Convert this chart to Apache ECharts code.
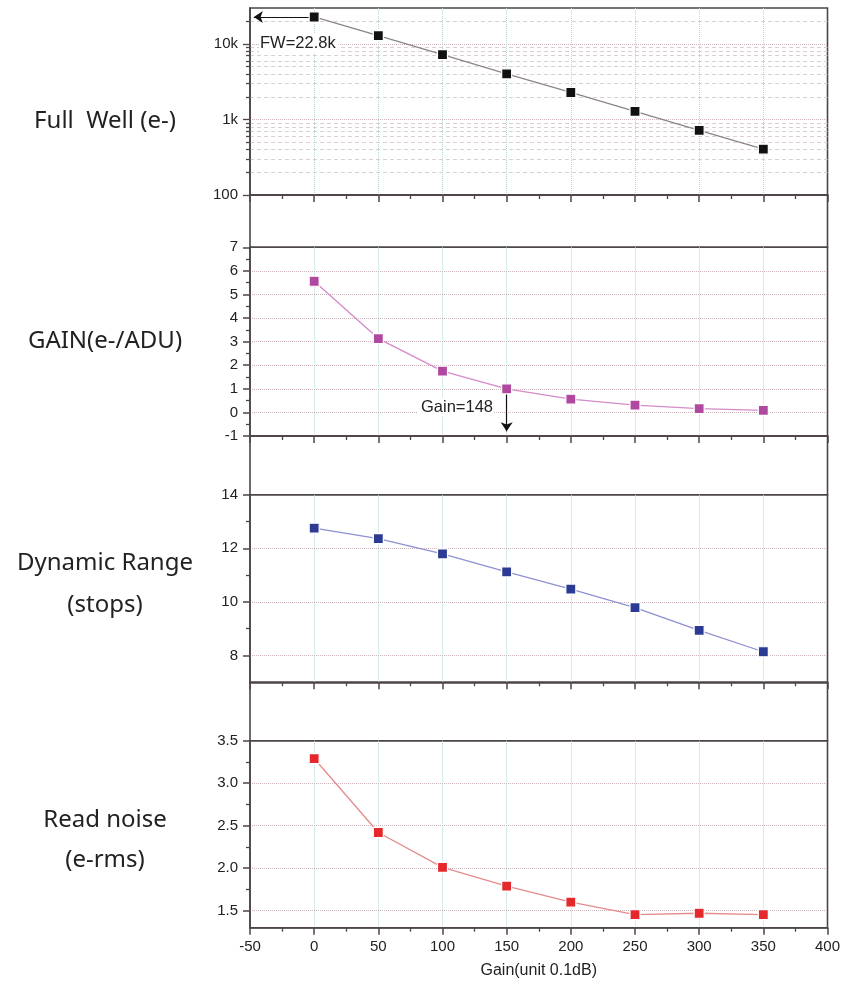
<!DOCTYPE html>
<html><head><meta charset="utf-8">
<script src="https://cdn.jsdelivr.net/npm/echarts@6/dist/echarts.min.js"></script>
<style>html,body{margin:0;padding:0;background:#fff}#c{width:849px;height:989px}</style>
</head><body><div id="c"></div>
<script>
// ---- data ----
const gains = [0, 50, 100, 150, 200, 250, 300, 350];
const fullWell = [22800, 12900, 7230, 4020, 2280, 1280, 719, 404];
const gainADU = [5.56, 3.13, 1.75, 1.00, 0.56, 0.31, 0.16, 0.09];
const dynRange = [12.75, 12.36, 11.79, 11.12, 10.48, 9.79, 8.94, 8.14];
const readNoise = [3.29, 2.42, 2.01, 1.79, 1.60, 1.455, 1.47, 1.455];

const fwTickVals = [100, 1000, 10000];
const fwTickText = {100: '100', 1000: '1k', 10000: '10k'};
const fwMinorVals = [200,300,400,500,600,700,800,900,2000,3000,4000,5000,6000,7000,8000,9000,20000];
const gainTickVals = [-1, 0, 1, 2, 3, 4, 5, 6, 7];
const drTickVals = [8, 10, 12, 14];
const drMinorVals = [9, 11, 13];
const rnTickVals = [1.5, 2.0, 2.5, 3.0, 3.5];
const rnMinorVals = [1.75, 2.25, 2.75, 3.25];

const fwArrow = [[0, 22800], [-47, 22800]];
const fwLabel = 'FW=22.8k';
const gainArrow = [[150, 1.0], [150, -0.8]];
const gainLabel = 'Gain=148';
const xTitle = 'Gain(unit 0.1dB)';
const panelTitles = [['Full  Well (e-)'], ['GAIN(e-/ADU)'], ['Dynamic Range', '(stops)'], ['Read noise', '(e-rms)']];

// ---- styles ----
const FRAME = '#4d4646';
const FRAME_W = 1.6;
const TXT = '#222';
const FONT = 'Liberation Sans, Arial, sans-serif';
const HGRID = {type: 'dotted', color: '#cfb3bb', width: 1};
const VGRID = {type: 'dotted', color: '#b3d6da', width: 1};
const LOG_MAX = 30000;

const L = 250, W = 577.5;
const grids = [
  {top: 8, height: 187},       // G1
  {top: 195, height: 52.3},    // band
  {top: 247.3, height: 188.7}, // G2
  {top: 436, height: 58.7},    // band
  {top: 494.7, height: 187.6}, // G3
  {top: 682.3, height: 58.4},  // band
  {top: 740.7, height: 187}    // G4
].map(g => ({left: L, width: W, top: g.top, height: g.height, show: true,
  borderColor: FRAME, borderWidth: FRAME_W, backgroundColor: 'transparent'}));

function xAxisFor(gi, showLabels) {
  return {
    type: 'value', gridIndex: gi, position: 'bottom', min: -50, max: 400, interval: 50,
    axisLine: {show: true, onZero: false, lineStyle: {color: FRAME, width: FRAME_W}},
    axisTick: {show: true, inside: false, length: 7, lineStyle: {color: FRAME, width: 1.5}},
    minorTick: {show: true, splitNumber: 2, length: 4, lineStyle: {color: FRAME, width: 1.3}},
    axisLabel: {show: showLabels, color: TXT, fontSize: 15, fontFamily: FONT, margin: 12},
    splitLine: {show: true, showMinLine: false, showMaxLine: false, lineStyle: VGRID},
    name: showLabels ? xTitle : '', nameLocation: 'middle', nameGap: 35,
    nameTextStyle: {color: TXT, fontSize: 16, fontFamily: FONT}
  };
}
function hiddenX(gi) { return {type: 'value', gridIndex: gi, show: false, min: -50, max: 400}; }
function hiddenY(gi) { return {type: 'value', gridIndex: gi, show: false, min: 0, max: 1, position: 'left'}; }
function tickOnlyY(gi, min, max, vals, len, split) {
  return {
    type: 'value', gridIndex: gi, position: 'left', offset: 0, min: min, max: max,
    axisLine: {show: false, onZero: false}, axisLabel: {show: false},
    axisTick: {show: true, inside: false, length: len, customValues: vals, lineStyle: {color: FRAME, width: 1.3}},
    splitLine: split ? {show: true, lineStyle: split} : {show: false}
  };
}
const labelStyle = {color: TXT, fontSize: 15, fontFamily: FONT, margin: 12};
const yLine = {show: true, onZero: false, lineStyle: {color: FRAME, width: FRAME_W}};
const majorTick = {show: true, inside: false, length: 7, lineStyle: {color: FRAME, width: 1.5}};

const xAxes = [xAxisFor(0, false), hiddenX(1), xAxisFor(2, false), hiddenX(3), xAxisFor(4, false), hiddenX(5), xAxisFor(6, true)];

const yAxes = [
  // 0: G1 log data axis
  {type: 'log', gridIndex: 0, position: 'left', logBase: 10, min: 100, max: LOG_MAX,
   axisLine: yLine, axisTick: {show: false},
   axisLabel: Object.assign({}, labelStyle, {formatter: v => fwTickText[Math.round(v)] || ''}),
   splitLine: {show: true, showMinLine: false, showMaxLine: false, lineStyle: HGRID}},
  // 1: G1 major ticks (log positions)
  tickOnlyY(0, Math.log10(100), Math.log10(LOG_MAX), fwTickVals.map(Math.log10), 7, null),
  // 2: G1 minor ticks + minor grid
  tickOnlyY(0, Math.log10(100), Math.log10(LOG_MAX), fwMinorVals.map(Math.log10), 4,
    {type: [4, 3], color: '#dccfcf', width: 1}),
  hiddenY(1),
  // 4: G2
  {type: 'value', gridIndex: 2, position: 'left', min: -1, max: 7, interval: 1,
   axisLine: yLine, axisTick: majorTick,
   minorTick: {show: true, splitNumber: 2, length: 4, lineStyle: {color: FRAME, width: 1.3}},
   axisLabel: labelStyle,
   splitLine: {show: true, showMinLine: false, showMaxLine: false, lineStyle: HGRID}},
  hiddenY(3),
  // 6: G3
  {type: 'value', gridIndex: 4, position: 'left', min: 7, max: 14,
   axisLine: yLine, axisTick: Object.assign({}, majorTick, {customValues: drTickVals}),
   axisLabel: Object.assign({}, labelStyle, {customValues: drTickVals}),
   splitLine: {show: true, showMaxLine: false, lineStyle: HGRID}},
  tickOnlyY(4, 7, 14, drMinorVals, 4, null),
  hiddenY(5),
  // 9: G4
  {type: 'value', gridIndex: 6, position: 'left', min: 1.3, max: 3.5,
   axisLine: yLine, axisTick: Object.assign({}, majorTick, {customValues: rnTickVals}),
   axisLabel: Object.assign({}, labelStyle, {customValues: rnTickVals, formatter: v => v.toFixed(1)}),
   splitLine: {show: true, showMaxLine: false, lineStyle: HGRID}},
  tickOnlyY(6, 1.3, 3.5, rnMinorVals, 4, null)
];

function pts(vals) { return gains.map((g, i) => [g, vals[i]]); }
function lineSeries(xi, yi, vals, mColor, lColor, extra) {
  return Object.assign({
    type: 'line', xAxisIndex: xi, yAxisIndex: yi, data: pts(vals),
    symbol: 'rect', symbolSize: 10, z: 5,
    itemStyle: {color: mColor, borderColor: '#fff', borderWidth: 1.2},
    lineStyle: {color: lColor, width: 1.3}
  }, extra || {});
}
function arrow(a) {
  return {silent: true, symbol: ['none', 'arrow'], symbolSize: 9, animation: false,
    lineStyle: {color: '#111', width: 1.2, type: 'solid'}, label: {show: false},
    data: [[{coord: a[0]}, {coord: a[1]}]]};
}

const series = [
  lineSeries(0, 0, fullWell, '#111111', '#8c8585', {markLine: arrow(fwArrow)}),
  lineSeries(2, 4, gainADU, '#b1489f', '#d58ac9', {markLine: arrow(gainArrow)}),
  lineSeries(4, 6, dynRange, '#2b3a92', '#8d90d2'),
  lineSeries(6, 9, readNoise, '#e5282b', '#e58b8b')
];

const titleY = [[121], [341], [563, 605], [820, 860]];
const graphic = [];
panelTitles.forEach((lines, p) => lines.forEach((t, k) => graphic.push({
  type: 'text', x: 105, y: titleY[p][k],
  style: {text: t, fill: TXT, fontSize: 24, fontFamily: 'Noto Sans, sans-serif', align: 'center', verticalAlign: 'middle'}
})));
graphic.push({type: 'text', x: 259, y: 43, z: 10, style: {text: fwLabel, fill: TXT, fontSize: 16.5, fontFamily: FONT,
  align: 'left', verticalAlign: 'middle', backgroundColor: '#fff', padding: [1, 3, 1, 1]}});
graphic.push({type: 'text', x: 494, y: 407, z: 10, style: {text: gainLabel, fill: TXT, fontSize: 16.5, fontFamily: FONT,
  align: 'right', verticalAlign: 'middle', backgroundColor: '#fff', padding: [1, 1, 1, 3]}});

const chart = echarts.init(document.getElementById('c'), null, {renderer: 'canvas'});
chart.setOption({
  animation: false,
  backgroundColor: '#fff',
  grid: grids,
  xAxis: xAxes,
  yAxis: yAxes,
  series: series,
  graphic: graphic
});
</script>
</body></html>
